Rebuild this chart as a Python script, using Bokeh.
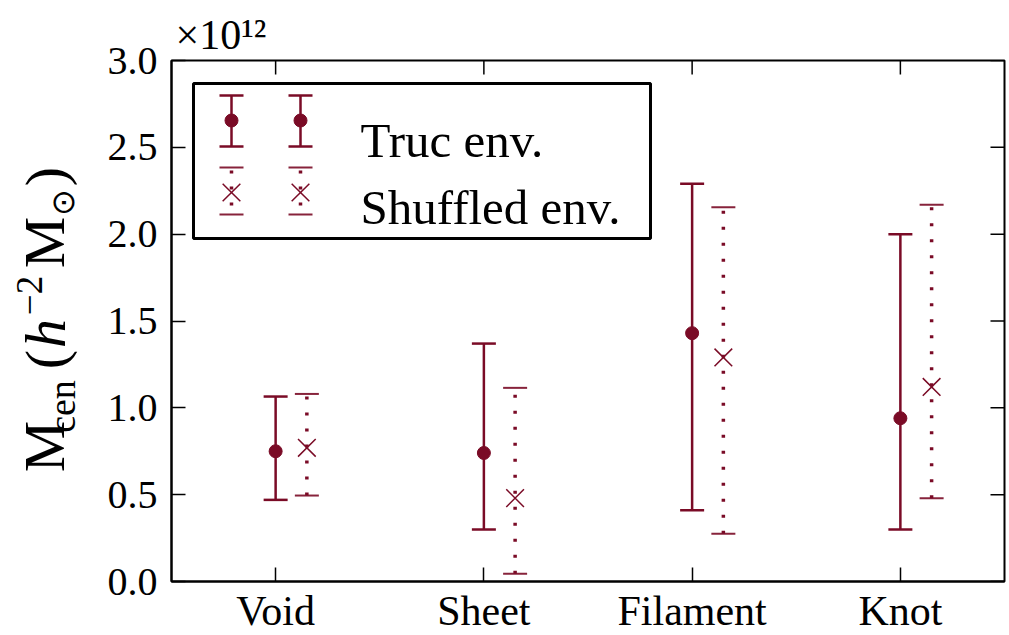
import numpy as np
from bokeh.plotting import figure
from bokeh.layouts import row
from bokeh.models import LinearAxis, FixedTicker, Label, Range1d, PrintfTickFormatter, Title
from bokeh.core.properties import value
from bokeh.embed import file_html
from bokeh.resources import INLINE

# ---------------- data (values in units of 1e12 h^-2 Msun) ----------------
categories = ["Void", "Sheet", "Filament", "Knot"]
true_mid = [0.75, 0.74, 1.43, 0.94]
true_lo = [0.47, 0.30, 0.41, 0.30]
true_hi = [1.065, 1.37, 2.29, 2.00]
shuf_mid = [0.77, 0.48, 1.29, 1.12]
shuf_lo = [0.495, 0.045, 0.275, 0.48]
shuf_hi = [1.08, 1.115, 2.155, 2.17]
y_ticks = [0.0, 0.5, 1.0, 1.5, 2.0, 2.5, 3.0]
series_labels = ["Truc env.", "Shuffled env."]
shuffle_offset = 0.15

# ---------------- style / layout ----------------
COL = "#7a0b26"
FONT = "Liberation Serif"
WL = 90                               # width of the strip carrying the y label
FL, FT, FW, FH = 171, 60, 833, 521    # frame position in the page
XR = (-0.5, 3.5)
YR = (0.0, 3.0)
PX_X = FW / (XR[1] - XR[0])
PX_Y = FH / (YR[1] - YR[0])
TICK = 14


def dx(px):
    return XR[0] + (px - FL) / PX_X


def dy(py):
    return YR[0] + (FT + FH - py) / PX_Y


p = figure(frame_width=FW, frame_height=FH, x_range=Range1d(*XR), y_range=Range1d(*YR),
           output_backend="svg", toolbar_location=None,
           min_border_left=FL - WL, min_border_top=FT, min_border_right=4, min_border_bottom=30,
           x_axis_type=None, y_axis_type=None)
p.grid.visible = False
p.outline_line_color = "black"
p.outline_line_width = 2
p.background_fill_color = "white"
p.border_fill_color = "white"

xt = list(range(len(categories)))
overrides = {i: c for i, c in enumerate(categories)}


def style_axis(ax):
    ax.axis_line_color = "black"
    ax.axis_line_width = 2
    ax.major_tick_in = TICK
    ax.major_tick_out = 0
    ax.major_tick_line_color = "black"
    ax.major_tick_line_width = 1.5
    ax.minor_tick_line_color = None
    ax.major_label_text_font = FONT
    ax.major_label_text_color = "black"


xb = LinearAxis(ticker=FixedTicker(ticks=xt), major_label_overrides=overrides)
style_axis(xb)
xb.major_label_text_font_size = "42px"
xb.major_label_standoff = 6
p.add_layout(xb, "below")

yl = LinearAxis(ticker=FixedTicker(ticks=y_ticks), formatter=PrintfTickFormatter(format="%.1f"))
style_axis(yl)
yl.major_label_text_font_size = "40px"
yl.major_label_standoff = 14
p.add_layout(yl, "left")

# ticks on the top and right edges (matplotlib style, pointing inwards)
p.segment(x0=xt, y0=[YR[1] - TICK / PX_Y] * len(xt), x1=xt, y1=[YR[1]] * len(xt),
          line_color="black", line_width=1.5)
p.segment(x0=[XR[1] - TICK / PX_X] * len(y_ticks), y0=y_ticks, x1=[XR[1]] * len(y_ticks), y1=y_ticks,
          line_color="black", line_width=1.5)

# offset text above the frame
p.add_layout(Title(text="×10¹²", align="left", offset=4, standoff=6, text_font=FONT,
                   text_font_size="42px", text_font_style="normal", text_color="black"), "above")

# ---------------- error bars ----------------
x_true = np.array(xt, dtype=float)
x_shuf = x_true + shuffle_offset
half_cap = 12 / PX_X

p.segment(x0=x_true, y0=true_lo, x1=x_true, y1=true_hi, line_color=COL, line_width=2.5)
for ends in (true_lo, true_hi):
    p.segment(x0=x_true - half_cap, y0=ends, x1=x_true + half_cap, y1=ends, line_color=COL, line_width=2.5)
p.scatter(x_true, true_mid, marker="circle", size=13, fill_color=COL, line_color=COL)

p.segment(x0=x_shuf, y0=shuf_lo, x1=x_shuf, y1=shuf_hi, line_color=COL, line_width=3.5, line_dash="3 13")
for ends in (shuf_lo, shuf_hi):
    p.segment(x0=x_shuf - half_cap, y0=ends, x1=x_shuf + half_cap, y1=ends, line_color=COL, line_width=2,
              line_alpha=0.9)
p.scatter(x_shuf, shuf_mid, marker="x", size=25, line_color=COL, line_width=1.5)

# ---------------- legend (drawn by hand, matplotlib style with two points) ----------------
p.quad(left=[dx(193)], right=[dx(650)], top=[dy(83)], bottom=[dy(238)],
       fill_color="white", line_color="black", line_width=3)
lx = np.array([dx(231), dx(300)])
p.segment(x0=lx, y0=[dy(95)] * 2, x1=lx, y1=[dy(146)] * 2, line_color=COL, line_width=2.5)
for yy in (95, 146):
    p.segment(x0=lx - half_cap, y0=[dy(yy)] * 2, x1=lx + half_cap, y1=[dy(yy)] * 2, line_color=COL, line_width=2.5)
p.scatter(lx, [dy(120)] * 2, marker="circle", size=13, fill_color=COL, line_color=COL)
p.segment(x0=lx, y0=[dy(170)] * 2, x1=lx, y1=[dy(212)] * 2, line_color=COL, line_width=3.5, line_dash="3 13")
for yy in (167, 214):
    p.segment(x0=lx - half_cap, y0=[dy(yy)] * 2, x1=lx + half_cap, y1=[dy(yy)] * 2, line_color=COL, line_width=2,
              line_alpha=0.9)
p.scatter(lx, [dy(192)] * 2, marker="x", size=25, line_color=COL, line_width=1.5)

for lab, base in zip(series_labels, (140, 207)):
    p.add_layout(Label(x=dx(360), y=dy(base), text=lab, text_font=FONT, text_font_size="49px",
                       text_color="black", text_align="left", text_baseline="alphabetic"))

# ---------------- y axis label M_cen(h^-2 M_sun), rotated, in its own strip ----------------
# The strip's frame is aligned with the main frame (rows align frames), so its
# y range is expressed as negative page pixels of that frame.
pl = figure(frame_width=WL, frame_height=FH, x_range=Range1d(0, WL), y_range=Range1d(-(FT + FH), -FT),
            output_backend="svg", toolbar_location=None,
            min_border_left=0, min_border_right=0, min_border_top=FT, min_border_bottom=0,
            x_axis_type=None, y_axis_type=None)
pl.grid.visible = False
pl.outline_line_color = None
pl.background_fill_color = "white"
pl.border_fill_color = "white"

# (text, font size, centre x in px, centre y in px, style)
ylabel_parts = [
    ("M", "58px", 44, 446, "normal"),
    ("cen", "38px", 61, 406, "normal"),
    ("(", "58px", 45, 359, "normal"),
    ("h", "58px", 45, 333, "italic"),
    ("−2", "37px", 29, 295, "normal"),
    ("M", "58px", 44, 242, "normal"),
    ("⊙", "32px", 62, 202, "normal"),
    (")", "58px", 45, 176, "normal"),
]
for txt, fs, cx, cy, st in ylabel_parts:
    pl.text(x=[cx], y=[-cy], text=[txt], angle=np.pi / 2, text_align="center",
            text_baseline="middle", text_font=value(FONT), text_font_size=value(fs),
            text_font_style=st, text_color="black")

layout = row(pl, p, spacing=0)
open("out.html", "w").write(file_html(layout, INLINE))
